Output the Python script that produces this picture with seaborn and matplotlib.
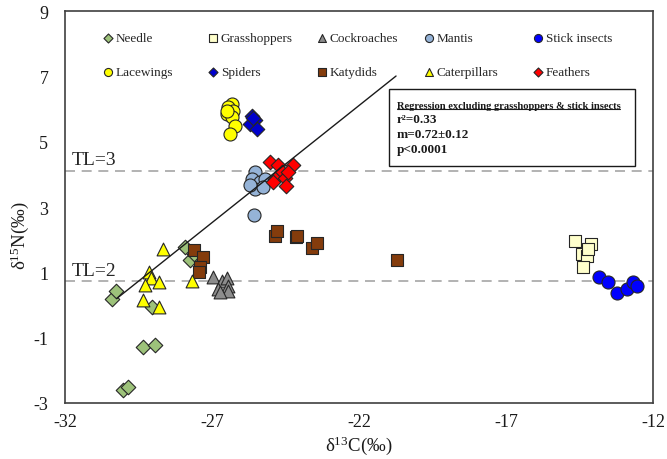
import numpy as np
import pandas as pd
import matplotlib
matplotlib.use("Agg")
import matplotlib.pyplot as plt
import seaborn as sns
from matplotlib.lines import Line2D
from matplotlib.patches import Rectangle

# ---------------- data ----------------
needle_x = [-30.41, -30.27, -29.34, -28.94, -30.02, -29.85, -29.05, -27.92, -27.75, -27.62]
needle_y = [0.18, 0.43, -1.29, -1.22, -2.60, -2.52, -0.05, 1.77, 1.38, 1.55]

grasshoppers_x = [-14.65, -14.12, -14.43, -14.26, -14.20, -14.37]
grasshoppers_y = [1.97, 1.87, 1.57, 1.49, 1.72, 1.15]

cockroaches_x = [-26.96, -26.67, -26.50, -26.78, -26.44, -26.44, -26.73]
cockroaches_y = [0.85, 0.72, 0.82, 0.49, 0.58, 0.43, 0.40]

mantis_x = [-25.54, -25.65, -25.37, -25.20, -25.54, -25.25, -25.71, -25.56]
mantis_y = [4.06, 3.86, 3.76, 3.86, 3.56, 3.61, 3.66, 2.76]

stick_x = [-13.84, -13.54, -13.24, -12.90, -12.69, -12.56]
stick_y = [0.85, 0.70, 0.36, 0.49, 0.70, 0.58]

lacewings_x = [-26.33, -26.44, -26.27, -26.50, -26.33, -26.22, -26.39, -26.50]
lacewings_y = [6.15, 6.05, 5.95, 5.85, 5.75, 5.48, 5.23, 5.95]

spiders_x = [-25.65, -25.54, -25.71, -25.48, -25.60]
spiders_y = [5.80, 5.65, 5.55, 5.40, 5.72]

katydids_x = [-27.61, -27.32, -27.41, -27.43, -24.86, -24.80, -24.14, -24.12, -23.61, -23.44, -20.72]
katydids_y = [1.67, 1.46, 1.15, 1.02, 2.12, 2.27, 2.07, 2.12, 1.74, 1.90, 1.38]

caterpillars_x = [-28.66, -29.13, -29.09, -29.28, -28.80, -29.34, -28.80, -27.69]
caterpillars_y = [1.72, 1.00, 0.82, 0.60, 0.70, 0.16, -0.07, 0.75]

feathers_x = [-25.03, -24.74, -24.23, -24.62, -24.86, -24.52, -24.48, -24.91, -24.40]
feathers_y = [4.38, 4.28, 4.28, 4.06, 3.86, 3.88, 3.64, 3.76, 4.06]

# regression (excluding grasshoppers & stick insects)
reg_slope = 0.717
reg_intercept = 21.88
reg_x_range = [-30.24, -20.74]
reg_title = "Regression excluding grasshoppers & stick insects"
reg_stats = ["r\u00b2=0.33", "m=0.72\u00b10.12", "p<0.0001"]

# trophic levels
tl_values = [4.10, 0.73]
tl_labels = ["TL=3", "TL=2"]

x_ticks = [-32, -27, -22, -17, -12]
y_ticks = [-3, -1, 1, 3, 5, 7, 9]

groups = [
    ("Needle", needle_x, needle_y, "D", "#9DC27A", 55),
    ("Grasshoppers", grasshoppers_x, grasshoppers_y, "s", "#FFFFCC", 80),
    ("Cockroaches", cockroaches_x, cockroaches_y, "^", "#8C8C8C", 85),
    ("Mantis", mantis_x, mantis_y, "o", "#95B3D7", 88),
    ("Stick insects", stick_x, stick_y, "o", "#0000FF", 88),
    ("Lacewings", lacewings_x, lacewings_y, "o", "#FFFF00", 88),
    ("Spiders", spiders_x, spiders_y, "D", "#0000CC", 55),
    ("Katydids", katydids_x, katydids_y, "s", "#843C0C", 80),
    ("Caterpillars", caterpillars_x, caterpillars_y, "^", "#FFFF00", 85),
    ("Feathers", feathers_x, feathers_y, "D", "#FF0000", 55),
]

# ---------------- style ----------------
sns.set_style("white")
plt.rcParams["font.family"] = ["Liberation Serif", "DejaVu Serif"]
plt.rcParams["mathtext.fontset"] = "custom"
plt.rcParams["mathtext.rm"] = "Liberation Serif"
plt.rcParams["mathtext.it"] = "Liberation Serif:italic"
plt.rcParams["axes.unicode_minus"] = False

fig = plt.figure(figsize=(6.67, 4.6), dpi=100)
ax = fig.add_axes([65 / 667, 1 - 404 / 460, 588 / 667, 392 / 460])

for name, xs, ys, mk, fc, sz in groups:
    df = pd.DataFrame({"d13C": xs, "d15N": ys})
    sns.scatterplot(data=df, x="d13C", y="d15N", marker=mk, s=sz, color=fc,
                    edgecolor="#262626", linewidth=0.8, ax=ax, label=name,
                    zorder=3, legend=False)

# trophic level lines
for v, lab in zip(tl_values, tl_labels):
    ax.axhline(v, color="#A6A6A6", lw=1.2, ls=(0, (6, 4)), zorder=1)
    ax.text(-31.78, v + 0.08, lab, fontsize=14, ha="left", va="bottom",
            color="#262626", zorder=2)

# regression line
rx = np.array(reg_x_range)
ax.plot(rx, reg_intercept + reg_slope * rx, color="#1a1a1a", lw=1.0, zorder=4)

# regression box
ax.add_patch(Rectangle((-20.98, 4.26), 8.37, 2.35, facecolor="white",
                       edgecolor="#1a1a1a", lw=1.0, zorder=5))
title_txt = ax.text(-20.72, 6.12, reg_title, fontsize=7.6, fontweight="bold",
                    ha="left", va="center", color="#1a1a1a", zorder=6)
for ty, s in zip([5.68, 5.23, 4.77], reg_stats):
    ax.text(-20.72, ty, s, fontsize=9.5, fontweight="bold",
            ha="left", va="center", color="#1a1a1a", zorder=6)

ax.set_xlim(-32, -12)
ax.set_ylim(-3, 9)
ax.set_xticks(x_ticks)
ax.set_yticks(y_ticks)
ax.tick_params(axis="both", length=0, labelsize=13, colors="#1a1a1a")
ax.tick_params(axis="y", pad=12)
ax.tick_params(axis="x", pad=7)
for sp in ax.spines.values():
    sp.set_color("#404040")
    sp.set_linewidth(1.2)

ax.set_xlabel("\u03b4$^{13}$C(\u2030)", fontsize=13.5, color="#1a1a1a")
ax.set_ylabel("\u03b4$^{15}$N(\u2030)", fontsize=13.5, color="#1a1a1a")
ax.yaxis.set_label_coords(-0.057, 0.43)
ax.xaxis.set_label_coords(0.5, -0.077)

# legend: two rows, five evenly spaced columns (figure-level legends)
h, l = ax.get_legend_handles_labels()
col_px = [108, 213, 322, 429, 538]
for c, xp in enumerate(col_px):
    fig.legend([h[c], h[c + 5]], [l[c], l[c + 5]], ncol=1,
               loc="upper left",
               bbox_to_anchor=((xp - 4) / 667, 1 - 33 / 460),
               bbox_transform=fig.transFigure, frameon=False,
               fontsize=9.5, markerscale=0.62, handlelength=0.6,
               handletextpad=0.3, labelspacing=1.65, borderpad=0,
               borderaxespad=0)

# underline the title line of the regression box
fig.canvas.draw()
bb = title_txt.get_window_extent()
inv = fig.transFigure.inverted()
(x0, y0) = inv.transform((bb.x0, bb.y0 + 1))
(x1, _) = inv.transform((bb.x1, bb.y0 + 1))
fig.add_artist(Line2D([x0, x1], [y0, y0], color="#1a1a1a", lw=0.8,
                      transform=fig.transFigure, zorder=7))

fig.savefig("out.png", dpi=100)
